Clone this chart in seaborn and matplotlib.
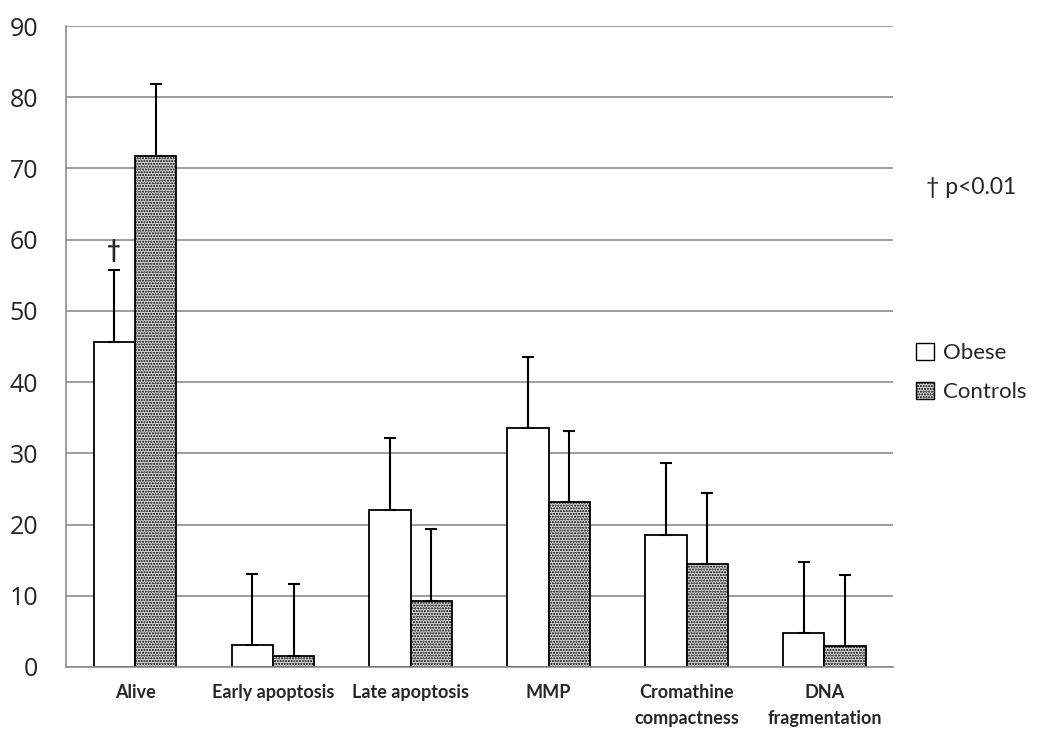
import matplotlib
matplotlib.use("Agg")
import matplotlib.pyplot as plt
import seaborn as sns
import pandas as pd
from matplotlib.patches import Patch

categories = ["Alive", "Early apoptosis", "Late apoptosis", "MMP",
              "Cromathine\ncompactness", "DNA\nfragmentation"]
obese = [45.7, 3.1, 22.0, 33.5, 18.6, 4.8]
controls = [71.8, 1.6, 9.3, 23.2, 14.4, 2.9]
obese_err = [10.0, 10.0, 10.1, 10.0, 10.0, 10.0]
controls_err = [10.1, 10.1, 10.1, 10.0, 10.0, 10.0]
groups = ["Obese", "Controls"]

df = pd.DataFrame({
    "category": categories * 2,
    "group": [groups[0]] * 6 + [groups[1]] * 6,
    "value": obese + controls,
})

sns.set_style("white")
plt.rcParams["font.family"] = ["Lato", "DejaVu Sans"]
plt.rcParams["hatch.color"] = "#6a6a6a"

fig = plt.figure(figsize=(10.4, 7.31), dpi=100)
ax = fig.add_axes([0.0635, 0.0876, 0.7955, 0.8768])

sns.barplot(data=df, x="category", y="value", hue="group", order=categories,
            hue_order=groups, palette=["white", "#d6d6d6"], width=0.6,
            edgecolor="black", linewidth=1.3, errorbar=None, legend=False, ax=ax)

# bars: first 6 = Obese, next 6 = Controls
bars = ax.patches[:12]
errs = obese_err + controls_err
for i, p in enumerate(bars):
    if i >= 6:
        p.set_hatch("......")
    xc = p.get_x() + p.get_width() / 2
    h = p.get_height()
    ax.errorbar([xc], [h], yerr=[[0], [errs[i]]], fmt="none", ecolor="black",
                elinewidth=1.5, capsize=4, capthick=1.5, zorder=3)

# dagger over Alive / Obese
p0 = bars[0]
ax.text(p0.get_x() + p0.get_width() / 2, 58.5, "†", ha="center", va="center",
        fontsize=17, fontweight="bold")

ax.set_ylim(0, 90)
ax.set_xlim(-0.5, 5.5)
ax.set_yticks(range(0, 91, 10))
ax.yaxis.grid(True, color="#8c8c8c", linewidth=1.2)
ax.set_axisbelow(True)
ax.tick_params(axis="y", labelsize=18, length=0, pad=20)
for t in ax.get_yticklabels():
    t.set_fontfamily(["Open Sans", "DejaVu Sans"])
ax.set_xlabel("")
ax.set_ylabel("")
ax.set_xticks(range(6))
ax.set_xticklabels(categories, fontsize=13, fontweight="bold", va="top",
                   linespacing=1.7)
ax.tick_params(axis="x", length=0, pad=12)
# category boundary ticks
ax.set_xticks([i - 0.5 for i in range(7)], minor=True)
ax.tick_params(axis="x", which="minor", length=7, color="#8c8c8c", width=1.2)

for s in ["top", "right"]:
    ax.spines[s].set_visible(False)
ax.spines["left"].set_color("#8c8c8c")
ax.spines["bottom"].set_color("#8c8c8c")
ax.spines["left"].set_linewidth(1.2)
ax.spines["bottom"].set_linewidth(1.2)

handles = [Patch(facecolor="white", edgecolor="black", label="Obese"),
           Patch(facecolor="#d6d6d6", edgecolor="black", hatch="......", label="Controls")]
fig.legend(handles=handles, loc="center left", bbox_to_anchor=(0.862, 0.49),
           frameon=False, fontsize=16, handlelength=0.8, handleheight=0.8,
           handletextpad=0.4, labelspacing=0.85)

fig.text(0.89, 0.744, "† p<0.01", fontsize=16.5, ha="left", va="center")

fig.savefig("out.png", dpi=100)
